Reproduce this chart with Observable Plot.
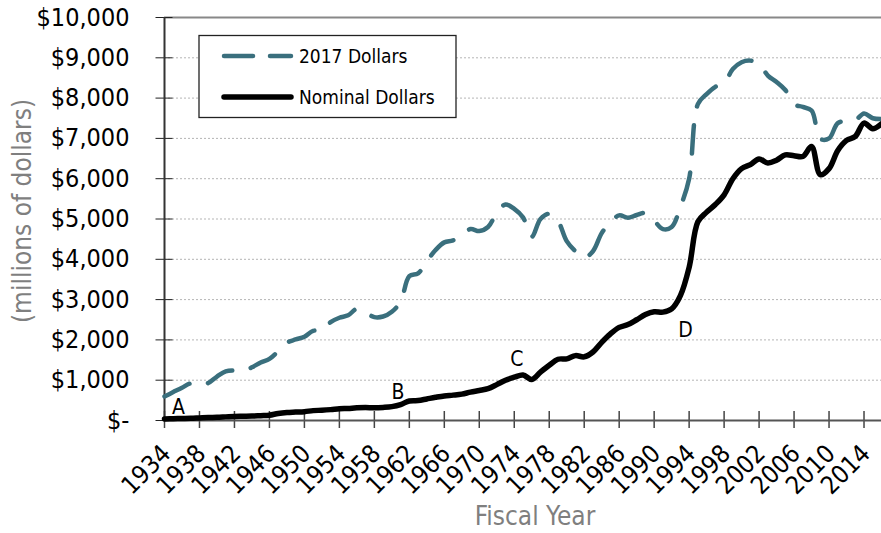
<!DOCTYPE html>
<html><head><meta charset="utf-8">
<script src="https://cdn.jsdelivr.net/npm/d3@7"></script>
<script src="https://cdn.jsdelivr.net/npm/@observablehq/plot@0.6"></script>
<style>
body{margin:0;background:#fff;}
#wrap{position:relative;width:881px;height:533px;font-family:"DejaVu Sans Condensed","DejaVu Sans",sans-serif;font-stretch:condensed;}
#legend{position:absolute;left:0;top:0;pointer-events:none;}
</style></head><body><div id="wrap"></div>
<script>
const years = [1934,1935,1936,1937,1938,1939,1940,1941,1942,1943,1944,1945,1946,1947,1948,1949,
1950,1951,1952,1953,1954,1955,1956,1957,1958,1959,1960,1961,1962,1963,1964,1965,1966,1967,1968,1969,
1970,1971,1972,1973,1974,1975,1976,1977,1978,1979,1980,1981,1982,1983,1984,1985,1986,1987,1988,1989,
1990,1991,1992,1993,1994,1995,1996,1997,1998,1999,2000,2001,2002,2003,2004,2005,2006,2007,2008,2009,
2010,2011,2012,2013,2014,2015,2016];
const nominalDollars = [40,45,50,55,65,75,80,90,100,105,110,120,130,175,200,210,
220,245,255,270,290,300,315,320,315,325,345,395,485,495,535,575,610,630,655,705,
745,790,890,1000,1075,1130,1020,1200,1370,1520,1530,1610,1580,1700,1940,2150,2310,2380,2500,2630,
2700,2690,2770,3100,3800,4930,5170,5360,5600,6000,6250,6350,6490,6390,6460,6590,6570,6550,6800,6100,
6250,6700,6950,7050,7380,7240,7360];
const dollars2017 = [595,705,815,920,880,930,1090,1220,1240,1230,1320,1440,1530,1720,1930,2010,
2080,2225,2225,2440,2550,2610,2770,2680,2565,2580,2700,2950,3580,3650,3950,4230,4420,4470,4600,4750,
4700,4800,5150,5360,5250,5040,4560,5000,5130,4950,4450,4200,4040,4200,4650,4920,5090,5030,5100,5150,
4960,4750,4800,5300,6000,7850,8100,8280,8370,8720,8890,8930,8850,8560,8400,8200,7850,7780,7690,6990,
7000,7380,7430,7450,7620,7500,7480];
const seriesNames = ["2017 Dollars", "Nominal Dollars"];
const xTickYears = [1934,1938,1942,1946,1950,1954,1958,1962,1966,1970,1974,1978,1982,1986,1990,1994,1998,2002,2006,2010,2014];
const yTickValues = [0,1000,2000,3000,4000,5000,6000,7000,8000,9000,10000];
const gridValues = [1000,2000,3000,4000,5000,6000,7000,8000,9000];
const annotLetters = ["A","B","C","D"];
const annotYears = [1935.6, 1960.7, 1974.3, 1993.6];
const annotValues = [335, 695, 1520, 2245];
const yTitle = "(millions of dollars)";
const xTitle = "Fiscal Year";

const teal = "#3a6f7d";
const realData = years.map((y, i) => ({year: y, value: dollars2017[i]}));
const nomData = years.map((y, i) => ({year: y, value: nominalDollars[i]}));
const annots = annotLetters.map((t, i) => ({text: t, year: annotYears[i], value: annotValues[i]}));
const fmt = d => d === 0 ? "$-" : "$" + d3.format(",")(d);
const font = '"DejaVu Sans Condensed","DejaVu Sans",sans-serif';

const chart = Plot.plot({
  width: 881, height: 533,
  marginLeft: 164, marginRight: 0, marginTop: 17, marginBottom: 113,
  style: {fontFamily: font, fontSize: "24px", color: "#000", background: "#fff", overflow: "visible", fontStretch: "condensed"},
  x: {domain: [1934, 2016], axis: null},
  y: {domain: [0, 10000], axis: null},
  marks: [
    Plot.gridY(gridValues, {stroke: "#b5b5b5", strokeOpacity: 1, strokeDasharray: "2,2"}),
    Plot.ruleY([10000], {stroke: "#888", strokeWidth: 2}),
    Plot.axisY(yTickValues, {tickSize: 17, dx: 8.5, tickFormat: () => "", label: null, stroke: "#222"}),
    Plot.axisY(yTickValues, {tickSize: 0, tickPadding: 35, tickFormat: fmt, label: null, fontSize: 25}),
    Plot.axisX(xTickYears, {tickSize: 17, dy: -9, tickFormat: () => "", label: null, stroke: "#444", strokeWidth: 1.5}),
    Plot.axisX(xTickYears, {tickSize: 0, tickRotate: -45, tickPadding: 29, dx: 2, lineAnchor: "middle", tickFormat: d => String(d), label: null, fontSize: 25}),
    Plot.ruleY([0], {stroke: "#555", strokeWidth: 2}),
    Plot.ruleX([1934], {stroke: "#333", strokeWidth: 2}),
    Plot.line(realData, {x: "year", y: "value", stroke: teal, strokeWidth: 4.5, strokeDasharray: "28,19", strokeLinecap: "round", curve: "catmull-rom"}),
    Plot.line(nomData, {x: "year", y: "value", stroke: "#000", strokeWidth: 5.5, strokeLinecap: "round", curve: "catmull-rom"}),
    Plot.text(annots, {x: "year", y: "value", text: "text", fontSize: 21, fill: "#000"}),
    Plot.text([yTitle], {frameAnchor: "left", textAnchor: "middle", rotate: -90, dx: -142, dy: -8, fontSize: 26, fill: "#7f7f7f"}),
    Plot.text([xTitle], {frameAnchor: "bottom", dx: 12, dy: 104, fontSize: 26, fill: "#7f7f7f"})
  ]
});
const wrap = document.getElementById("wrap");
wrap.appendChild(chart);

// legend overlay
const lg = d3.select(wrap).append("svg").attr("id", "legend").attr("width", 881).attr("height", 533)
  .style("font-family", font).style("font-stretch", "condensed");
lg.append("rect").attr("x", 199).attr("y", 35.5).attr("width", 257).attr("height", 82)
  .attr("fill", "#fff").attr("stroke", "#222").attr("stroke-width", 1.3);
const items = [
  {name: seriesNames[0], stroke: teal, w: 4.5, dash: "29,17", y: 56},
  {name: seriesNames[1], stroke: "#000", w: 5.5, dash: null, y: 97}
];
items.forEach(it => {
  lg.append("line").attr("x1", 224).attr("x2", 291).attr("y1", it.y).attr("y2", it.y)
    .attr("stroke", it.stroke).attr("stroke-width", it.w).attr("stroke-linecap", "round")
    .attr("stroke-dasharray", it.dash);
  lg.append("text").attr("x", 299).attr("y", it.y).attr("dy", "0.36em").attr("font-size", 19)
    .attr("fill", "#000").text(it.name);
});
</script></body></html>
